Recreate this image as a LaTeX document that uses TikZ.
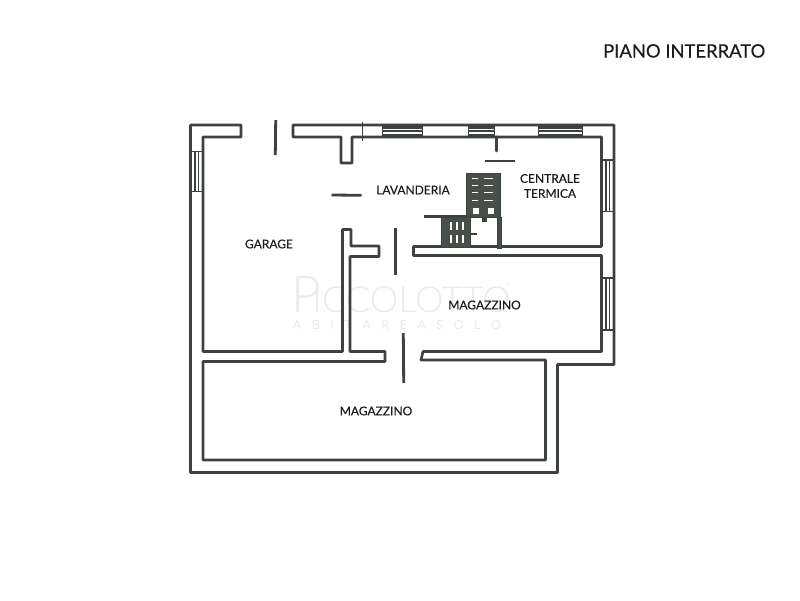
\documentclass[tikz,border=0pt]{standalone}
\usepackage{fontspec}
\setmainfont{Lato}
\newfontfamily\wmfont{Lato Light}
\newfontfamily\labfont[FakeBold=0.25]{Lato}
\definecolor{wallc}{RGB}{62,66,62}
\definecolor{stairc}{RGB}{72,78,72}
\definecolor{inkc}{RGB}{28,28,28}
\definecolor{wmc}{RGB}{234,234,234}
\tikzset{
  wall/.style={draw=wallc,line width=2.6pt,line join=round,line cap=round},
  thinwall/.style={draw=wallc,line width=1.3pt},
  doorleaf/.style={draw=wallc,line width=2.8pt},
  winline/.style={draw=wallc,line width=1.6pt},
  roomlabel/.style={text=inkc,font=\labfont\fontsize{12}{15}\selectfont,align=center,inner sep=0pt},
  titlelabel/.style={text=inkc,font=\labfont\fontsize{18.4}{21}\selectfont,inner sep=0pt},
  stairfill/.style={fill=stairc,draw=wallc,line width=1pt},
  tread/.style={fill=white,draw=none}
}
\begin{document}
\begin{tikzpicture}[x=1pt,y=-1pt]
\useasboundingbox (0,0) rectangle (800,600);
\fill[white] (0,0) rectangle (800,600);
% watermark
\node[text=wmc,inner sep=0pt,anchor=base west,font=\wmfont\fontsize{51}{51}\selectfont] (wmmain) at (291,312) {P\kern-8pt\fontsize{36}{36}\selectfont ICCOLOTTO};
\node[text=wmc,inner sep=0pt,anchor=base west,font=\fontsize{6}{6}\selectfont] (wmreg) at (506,286) {®};
\node[text=wmc,inner sep=0pt,anchor=base,font=\fontsize{12.5}{12.5}\selectfont] (wmsub) at (397,329) {A\hspace{10.5pt}B\hspace{10.5pt}I\hspace{10.5pt}T\hspace{10.5pt}A\hspace{10.5pt}R\hspace{10.5pt}E\hspace{10.5pt}A\hspace{10.5pt}S\hspace{10.5pt}O\hspace{10.5pt}L\hspace{10.5pt}O};
% outer shell
\draw[wall] (241,125) -- (190.5,125) -- (190.5,472.5) -- (557.5,472.5) -- (557.5,364.5) -- (614,364.5) -- (614,125) -- (293,125) -- (293,137) -- (341,137) -- (341,163) -- (352,163) -- (352,137) -- (601.5,137) -- (601.5,246.5) -- (413.5,246.5) -- (413.5,255.5) -- (601.5,255.5) -- (601.5,351.5) -- (423,351.5) -- (421,360) -- (545.5,360) -- (545.5,460) -- (203,460) -- (203,361.5) -- (385,361.5) -- (385,351.5) -- (350,351.5) -- (350,256.5) -- (379,256.5) -- (379,246) -- (351,246) -- (351,229.5) -- (342.5,229.5) -- (342.5,351.5) -- (203,351.5) -- (203,137) -- (241,137) -- cycle;
% small ticks
\draw[thinwall] (362.7,122) -- (362.7,141);
\draw[wall] (496.5,137) -- (496.5,151);
% top windows
\foreach \xa/\xb in {381.5/423,468/495,538/583}{
  \fill[wallc] (\xa,125) rectangle (\xb,137);
  \fill[white] (\xa+1,128.5) rectangle (\xb-1,130);
  \fill[white] (\xa+1,132) rectangle (\xb-1,133.5);
}
% side windows
\foreach \xa/\xb/\ya/\yb in {190.5/203/151.5/191.5,601.5/614/160/211.5,601.5/614/278/330}{
  \draw[winline] (\xa,\ya) rectangle (\xb,\yb);
  \draw[winline] (\xa+4.5,\ya) -- (\xa+4.5,\yb);
  \draw[winline] (\xa+8,\ya) -- (\xa+8,\yb);
}
% door leaves
\draw[doorleaf] (275.7,120) -- (275.3,155);
\draw[doorleaf] (331.5,195) -- (361.5,195.3);
\draw[doorleaf] (395.7,228) -- (395.7,275);
\draw[doorleaf] (403.3,333) -- (403.7,383);
\draw[doorleaf] (485,161) -- (515,161);
% stair
\fill[stairfill] (466.5,173) rectangle (500,217);
\fill[stairfill] (441.5,216) rectangle (470.5,247);
\fill[stairfill] (497,217) rectangle (501.5,248);
\draw[draw=wallc,line width=2.8pt] (424,216.7) -- (467,216.7);
\draw[draw=wallc,line width=2.2pt] (470,234) -- (477,234);
\fill[wallc] (482,217) rectangle (487,222);
\foreach \yy in {177.5,185,192,199.5}{
  \fill[tread] (472,\yy) rectangle (478,\yy+1.4);
  \fill[tread] (484,\yy) rectangle (493,\yy+1.4);
}
\fill[tread] (473,208) rectangle (478.5,214);
\fill[tread] (488,208) rectangle (493.5,214);
\foreach \xx in {450,456,462}{
  \fill[tread] (\xx,222) rectangle (\xx+2,230);
  \fill[tread] (\xx,235) rectangle (\xx+2,243);
}
% labels
\node[titlelabel,anchor=base west] (title) at (603,57.5) {PIANO INTERRATO};
\node[roomlabel] (garage) at (269,244) {GARAGE};
\node[roomlabel] (lav) at (413,190) {LAVANDERIA};
\node[roomlabel] (ct) at (550,186) {CENTRALE\\TERMICA};
\node[roomlabel] (mag1) at (484.5,305) {MAGAZZINO};
\node[roomlabel] (mag2) at (376,411) {MAGAZZINO};
\end{tikzpicture}
\end{document}
